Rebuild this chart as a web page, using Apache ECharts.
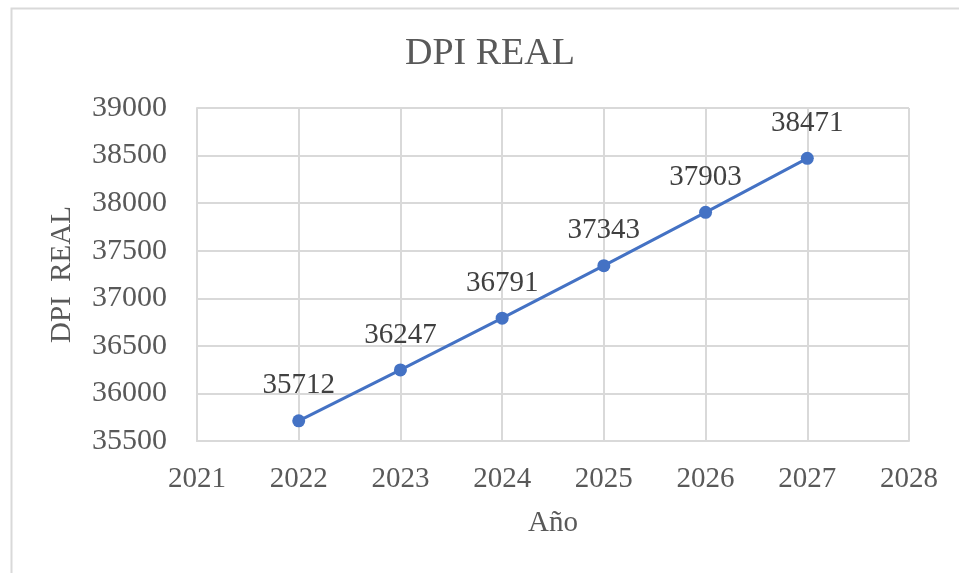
<!DOCTYPE html>
<html>
<head>
<meta charset="utf-8">
<script src="https://cdn.jsdelivr.net/npm/echarts@6/dist/echarts.min.js"></script>
<style>
  html, body { margin: 0; padding: 0; background: #fff; }
  #chart { width: 959px; height: 573px; }
</style>
</head>
<body>
<div id="chart"></div>
<script>
// Real disposable personal income by year
const years = [2022, 2023, 2024, 2025, 2026, 2027];
const dpiReal = [35712, 36247, 36791, 37343, 37903, 38471];

const serif = '"Liberation Serif", "Times New Roman", serif';
const textGray = '#595959';
const gridGray = '#d9d9d9';

const chart = echarts.init(document.getElementById('chart'), null, { renderer: 'canvas' });

chart.setOption({
  backgroundColor: '#ffffff',
  animation: false,
  graphic: [{
    type: 'rect',
    shape: { x: 11.5, y: 8.5, width: 1000, height: 700 },
    style: { fill: 'none', stroke: '#d9d9d9', lineWidth: 2 },
    silent: true
  }],
  title: {
    text: 'DPI REAL',
    left: 485,
    top: 30,
    textAlign: 'center',
    textStyle: { fontFamily: serif, fontSize: 38, fontWeight: 'normal', color: textGray }
  },
  grid: { left: 197, right: 50, top: 108, bottom: 132, containLabel: false },
  xAxis: {
    type: 'value',
    min: 2021,
    max: 2028,
    interval: 1,
    name: 'Año',
    nameLocation: 'middle',
    nameGap: 68,
    nameTextStyle: { fontFamily: serif, fontSize: 29, color: textGray },
    axisLine: { show: true, lineStyle: { color: gridGray, width: 2 } },
    axisTick: { show: false },
    splitLine: { show: true, lineStyle: { color: gridGray, width: 2 } },
    axisLabel: {
      margin: 24,
      fontFamily: serif, fontSize: 29, color: textGray,
      formatter: v => String(v)
    }
  },
  yAxis: {
    type: 'value',
    min: 35500,
    max: 39000,
    interval: 500,
    name: 'DPI  REAL',
    nameLocation: 'middle',
    nameGap: 120,
    nameRotate: 90,
    nameTextStyle: { fontFamily: serif, fontSize: 29, color: textGray },
    axisLine: { show: true, lineStyle: { color: gridGray, width: 2 } },
    axisTick: { show: false },
    splitLine: { show: true, lineStyle: { color: gridGray, width: 2 } },
    axisLabel: {
      margin: 30,
      fontFamily: serif, fontSize: 30, color: textGray,
      formatter: v => String(v)
    }
  },
  series: [{
    type: 'line',
    data: years.map((y, i) => [y, dpiReal[i]]),
    symbol: 'circle',
    symbolSize: 13,
    lineStyle: { color: '#4472C4', width: 3 },
    itemStyle: { color: '#4472C4' },
    label: {
      show: true,
      position: 'top',
      distance: 14,
      fontFamily: serif, fontSize: 29, color: '#404040',
      formatter: p => String(p.value[1])
    }
  }]
});
</script>
</body>
</html>
